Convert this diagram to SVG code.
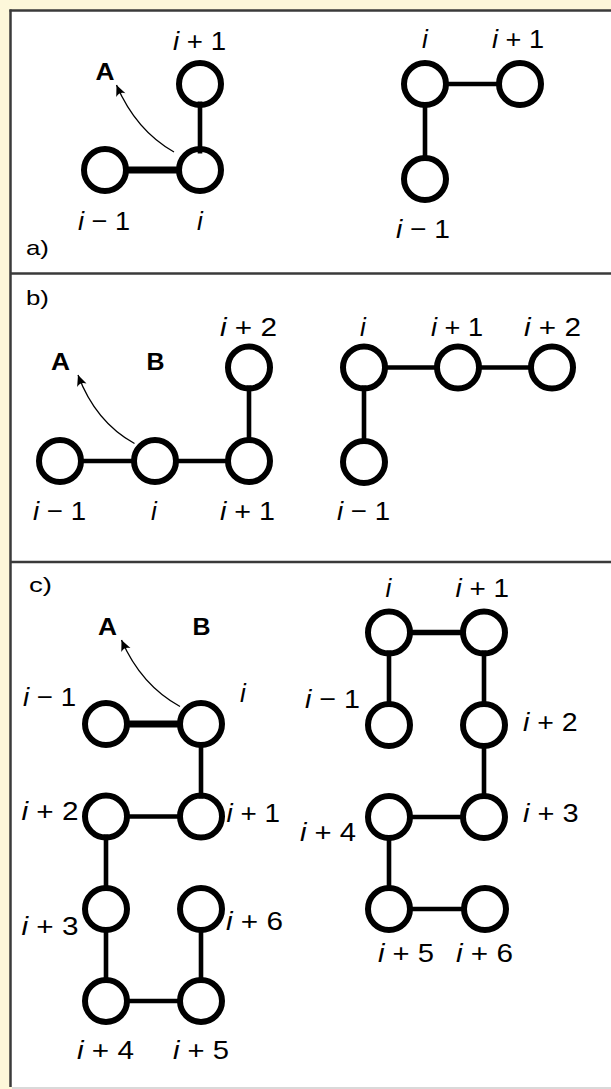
<svg xmlns="http://www.w3.org/2000/svg" width="611" height="1089" viewBox="0 0 611 1089">
<style>
.n{fill:#fff;stroke:#000;stroke-width:6}
.e{stroke:#000;stroke-width:4.6;fill:none}
.t{stroke-width:7}
.ar{stroke:#000;stroke-width:1.3;fill:none}
.lb{font-family:"Liberation Sans",Arial,sans-serif;font-size:26px;fill:#000}
.it{font-style:italic}
.bd{font-family:"Liberation Sans",Arial,sans-serif;font-size:24px;font-weight:bold;fill:#000}
.pl{font-family:"Liberation Sans",Arial,sans-serif;font-size:21px;fill:#000}
.fr{stroke:#3a3a3a;stroke-width:2.5;fill:none}
</style>
<defs>
<marker id="ah" viewBox="-12 -6 13 12" refX="0" refY="0" markerWidth="13" markerHeight="12" orient="auto" markerUnits="userSpaceOnUse">
<path d="M0,0 L-11,-5 Q-7,0 -11,5 Z" fill="#000"/>
</marker>
</defs>
<g id="frame">
<rect width="611" height="1089" fill="#fdf7da"/>
<rect x="10" y="10" width="610" height="1077" fill="#fff"/>
<line class="fr" x1="10.5" y1="9.5" x2="10.5" y2="1087"/>
<line class="fr" x1="9.5" y1="10.5" x2="611" y2="10.5"/>
<line class="fr" x1="10" y1="273.5" x2="611" y2="273.5"/>
<line class="fr" x1="10" y1="562" x2="611" y2="562"/>
<rect x="12" y="1087" width="599" height="2" fill="#d9d9d9"/>
</g>
<g id="panel-labels">
<text class="pl" x="26" y="255" textLength="23" lengthAdjust="spacingAndGlyphs">a)</text>
<text class="pl" x="26" y="305" textLength="23" lengthAdjust="spacingAndGlyphs">b)</text>
<text class="pl" x="29" y="592" textLength="23" lengthAdjust="spacingAndGlyphs">c)</text>
<text class="bd" x="105" y="80" text-anchor="middle" textLength="19" lengthAdjust="spacingAndGlyphs">A</text>
<text class="bd" x="60.5" y="370" text-anchor="middle" textLength="19" lengthAdjust="spacingAndGlyphs">A</text>
<text class="bd" x="155.5" y="370" text-anchor="middle" textLength="18" lengthAdjust="spacingAndGlyphs">B</text>
<text class="bd" x="107.5" y="635" text-anchor="middle" textLength="19" lengthAdjust="spacingAndGlyphs">A</text>
<text class="bd" x="201.5" y="635" text-anchor="middle" textLength="18" lengthAdjust="spacingAndGlyphs">B</text>
</g>
<g id="nodes">
<!-- panel a left -->
<g id="a1-im1"><circle class="n" cx="105" cy="170" r="21"/><text class="lb" x="78" y="230" textLength="52" lengthAdjust="spacingAndGlyphs"><tspan class="it">i</tspan> − 1</text></g>
<g id="a1-i"><circle class="n" cx="200" cy="170" r="21"/><text class="lb it" x="200" y="230" text-anchor="middle">i</text></g>
<g id="a1-ip1"><circle class="n" cx="200" cy="84" r="21"/><text class="lb" x="173" y="50" textLength="53" lengthAdjust="spacingAndGlyphs"><tspan class="it">i</tspan> + 1</text></g>
<!-- panel a right -->
<g id="a2-i"><circle class="n" cx="425" cy="84" r="21"/><text class="lb it" x="425" y="48" text-anchor="middle">i</text></g>
<g id="a2-ip1"><circle class="n" cx="520" cy="84" r="21"/><text class="lb" x="492" y="48" textLength="52" lengthAdjust="spacingAndGlyphs"><tspan class="it">i</tspan> + 1</text></g>
<g id="a2-im1"><circle class="n" cx="425" cy="179" r="21"/><text class="lb" x="396" y="238" textLength="54" lengthAdjust="spacingAndGlyphs"><tspan class="it">i</tspan> − 1</text></g>
<!-- panel b left -->
<g id="b1-im1"><circle class="n" cx="60" cy="461" r="21"/><text class="lb" x="33" y="520" textLength="53" lengthAdjust="spacingAndGlyphs"><tspan class="it">i</tspan> − 1</text></g>
<g id="b1-i"><circle class="n" cx="155" cy="461" r="21"/><text class="lb it" x="154" y="520" text-anchor="middle">i</text></g>
<g id="b1-ip1"><circle class="n" cx="249" cy="461" r="21"/><text class="lb" x="220" y="520" textLength="55" lengthAdjust="spacingAndGlyphs"><tspan class="it">i</tspan> + 1</text></g>
<g id="b1-ip2"><circle class="n" cx="249" cy="367.5" r="21"/><text class="lb" x="220" y="336" textLength="57" lengthAdjust="spacingAndGlyphs"><tspan class="it">i</tspan> + 2</text></g>
<!-- panel b right -->
<g id="b2-i"><circle class="n" cx="364" cy="367.5" r="21"/><text class="lb it" x="363" y="336" text-anchor="middle">i</text></g>
<g id="b2-ip1"><circle class="n" cx="458" cy="367.5" r="21"/><text class="lb" x="431" y="336" textLength="52" lengthAdjust="spacingAndGlyphs"><tspan class="it">i</tspan> + 1</text></g>
<g id="b2-ip2"><circle class="n" cx="552" cy="367.5" r="21"/><text class="lb" x="524" y="336" textLength="57" lengthAdjust="spacingAndGlyphs"><tspan class="it">i</tspan> + 2</text></g>
<g id="b2-im1"><circle class="n" cx="364" cy="462" r="21"/><text class="lb" x="337" y="520" textLength="53" lengthAdjust="spacingAndGlyphs"><tspan class="it">i</tspan> − 1</text></g>
<!-- panel c left -->
<g id="c1-im1"><circle class="n" cx="106" cy="724" r="21"/><text class="lb" x="23" y="706" textLength="53" lengthAdjust="spacingAndGlyphs"><tspan class="it">i</tspan> − 1</text></g>
<g id="c1-i"><circle class="n" cx="201" cy="724" r="21"/><text class="lb it" x="243" y="702" text-anchor="middle">i</text></g>
<g id="c1-ip1"><circle class="n" cx="201" cy="816.5" r="21"/><text class="lb" x="226.5" y="822" textLength="53.5" lengthAdjust="spacingAndGlyphs"><tspan class="it">i</tspan> + 1</text></g>
<g id="c1-ip2"><circle class="n" cx="106" cy="816.5" r="21"/><text class="lb" x="21.5" y="820" textLength="57" lengthAdjust="spacingAndGlyphs"><tspan class="it">i</tspan> + 2</text></g>
<g id="c1-ip3"><circle class="n" cx="106" cy="909" r="21"/><text class="lb" x="21.5" y="935" textLength="57" lengthAdjust="spacingAndGlyphs"><tspan class="it">i</tspan> + 3</text></g>
<g id="c1-ip4"><circle class="n" cx="106" cy="1001" r="21"/><text class="lb" x="77" y="1059" textLength="57" lengthAdjust="spacingAndGlyphs"><tspan class="it">i</tspan> + 4</text></g>
<g id="c1-ip5"><circle class="n" cx="201" cy="1001" r="21"/><text class="lb" x="173" y="1059" textLength="56" lengthAdjust="spacingAndGlyphs"><tspan class="it">i</tspan> + 5</text></g>
<g id="c1-ip6"><circle class="n" cx="201" cy="909" r="21"/><text class="lb" x="226" y="930" textLength="57" lengthAdjust="spacingAndGlyphs"><tspan class="it">i</tspan> + 6</text></g>
<!-- panel c right -->
<g id="c2-i"><circle class="n" cx="389" cy="632.5" r="21"/><text class="lb it" x="388.5" y="597" text-anchor="middle">i</text></g>
<g id="c2-ip1"><circle class="n" cx="484" cy="632.5" r="21"/><text class="lb" x="455.5" y="597" textLength="53.5" lengthAdjust="spacingAndGlyphs"><tspan class="it">i</tspan> + 1</text></g>
<g id="c2-im1"><circle class="n" cx="389" cy="725" r="21"/><text class="lb" x="305" y="708" textLength="55" lengthAdjust="spacingAndGlyphs"><tspan class="it">i</tspan> − 1</text></g>
<g id="c2-ip2"><circle class="n" cx="484" cy="725" r="21"/><text class="lb" x="523" y="731" textLength="54.6" lengthAdjust="spacingAndGlyphs"><tspan class="it">i</tspan> + 2</text></g>
<g id="c2-ip3"><circle class="n" cx="484" cy="817" r="21"/><text class="lb" x="523" y="822" textLength="55.6" lengthAdjust="spacingAndGlyphs"><tspan class="it">i</tspan> + 3</text></g>
<g id="c2-ip4"><circle class="n" cx="389" cy="817" r="21"/><text class="lb" x="300" y="841" textLength="56" lengthAdjust="spacingAndGlyphs"><tspan class="it">i</tspan> + 4</text></g>
<g id="c2-ip5"><circle class="n" cx="389" cy="909" r="21"/><text class="lb" x="378" y="962" textLength="56" lengthAdjust="spacingAndGlyphs"><tspan class="it">i</tspan> + 5</text></g>
<g id="c2-ip6"><circle class="n" cx="485" cy="909" r="21"/><text class="lb" x="456" y="962" textLength="57" lengthAdjust="spacingAndGlyphs"><tspan class="it">i</tspan> + 6</text></g>
</g>
<g id="connectors">
<!-- a left -->
<line class="e t" x1="123" y1="170" x2="182" y2="170"/>
<line class="e" x1="200" y1="101.5" x2="200" y2="153.5"/>
<path class="ar" d="M174,152 Q136,130.5 116.5,85" marker-end="url(#ah)"/>
<!-- a right -->
<line class="e" x1="443" y1="84" x2="502" y2="84"/>
<line class="e" x1="425" y1="102" x2="425" y2="161"/>
<!-- b left -->
<line class="e" x1="78" y1="461" x2="137" y2="461"/>
<line class="e" x1="173" y1="461" x2="231" y2="461"/>
<line class="e" x1="249" y1="385.5" x2="249" y2="443"/>
<path class="ar" d="M134.5,443.5 Q95.5,422 78,375" marker-end="url(#ah)"/>
<!-- b right -->
<line class="e" x1="382" y1="367.5" x2="440" y2="367.5"/>
<line class="e" x1="476" y1="367.5" x2="534" y2="367.5"/>
<line class="e" x1="364" y1="385.5" x2="364" y2="444"/>
<!-- c left -->
<line class="e t" x1="124" y1="724" x2="183" y2="724"/>
<line class="e" x1="201" y1="742" x2="201" y2="798.5"/>
<line class="e" x1="124" y1="816.5" x2="183" y2="816.5"/>
<line class="e" x1="106" y1="834.5" x2="106" y2="891"/>
<line class="e" x1="106" y1="927" x2="106" y2="983"/>
<line class="e" x1="124" y1="1001" x2="183" y2="1001"/>
<line class="e" x1="201" y1="927" x2="201" y2="983"/>
<path class="ar" d="M180,706.5 Q141,685 121.5,640" marker-end="url(#ah)"/>
<!-- c right -->
<line class="e" x1="407" y1="632.5" x2="466" y2="632.5" style="stroke-width:5.5"/>
<line class="e" x1="389" y1="650.5" x2="389" y2="707"/>
<line class="e" x1="484" y1="650.5" x2="484" y2="707"/>
<line class="e" x1="484" y1="743" x2="484" y2="799"/>
<line class="e" x1="407" y1="817" x2="466" y2="817"/>
<line class="e" x1="389" y1="835" x2="389" y2="891"/>
<line class="e" x1="407" y1="909" x2="467" y2="909"/>
</g>
</svg>
